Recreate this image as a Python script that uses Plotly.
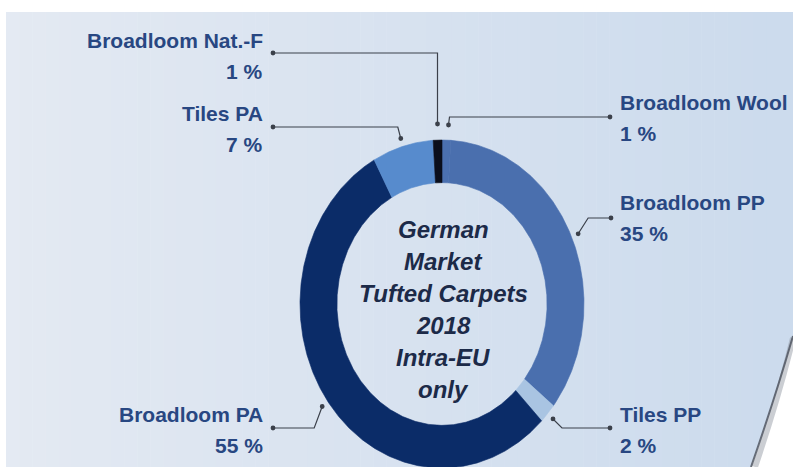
import numpy as np
import plotly.graph_objects as go

# ---- data -------------------------------------------------------------
segments = ["Broadloom Wool", "Broadloom PP", "Tiles PP",
            "Broadloom PA", "Tiles PA", "Broadloom Nat.-F"]
shares = [1, 35, 2, 55, 7, 1]          # percent of market
seg_colors = ["#4b70b0", "#4a6fae", "#a9c4e2",
              "#0b2c68", "#578bcd", "#0a0e1c"]
center_lines = ["German", "Market", "Tufted Carpets", "2018", "Intra-EU", "only"]

# ---- layout constants (pixel space) ------------------------------------
W, H = 793, 467
CX, CY, RX, RY, HOLE = 442, 304, 142, 164, 0.74
LABEL_COLOR = "#284782"
CENTER_COLOR = "#1c2a48"
LEADER_COLOR = "#3b404a"
FONT = "Arial, Liberation Sans, sans-serif"

fig = go.Figure()

# donut drawn clockwise from 12 o'clock on an elliptical ring
total = float(sum(shares))
bounds = np.concatenate([[0.0], np.cumsum(shares) / total]) * 2 * np.pi
for name, a0, a1, col in zip(segments, bounds[:-1], bounds[1:], seg_colors):
    t = np.linspace(a0, a1, max(8, int((a1 - a0) * 120)))
    xo, yo = CX + RX * np.sin(t), CY - RY * np.cos(t)
    xi, yi = CX + RX * HOLE * np.sin(t[::-1]), CY - RY * HOLE * np.cos(t[::-1])
    fig.add_trace(go.Scatter(
        x=np.concatenate([xo, xi, xo[:1]]), y=np.concatenate([yo, yi, yo[:1]]),
        mode="lines", fill="toself", fillcolor=col,
        line=dict(color=col, width=0.6), hoverinfo="skip", name=name,
        showlegend=False))

shapes = []

# soft horizontal background gradient
left_rgb, right_rgb = np.array([228, 234, 243]), np.array([204, 219, 237])
n_strips = 60
xs = np.linspace(6, W, n_strips + 1)
for i in range(n_strips):
    f = i / (n_strips - 1)
    c = (left_rgb + (right_rgb - left_rgb) * f).astype(int)
    shapes.append(dict(type="rect", xref="x", yref="y", x0=xs[i], x1=xs[i + 1] + 0.5,
                       y0=12, y1=H, line=dict(width=0), layer="below",
                       fillcolor=f"rgb({c[0]},{c[1]},{c[2]})"))

# white curved sheet in the lower right corner
shapes.append(dict(type="path", xref="x", yref="y", layer="below",
                   path=f"M {W},336 Q 776,395 751,{H} L {W},{H} Z",
                   fillcolor="white", line=dict(width=0)))
shapes.append(dict(type="path", xref="x", yref="y", layer="below",
                   path=f"M {W},338 Q 779,396 755,{H}",
                   line=dict(color="rgba(140,146,158,0.45)", width=6)))
shapes.append(dict(type="path", xref="x", yref="y", layer="below",
                   path=f"M {W},336 Q 776,395 751,{H}",
                   line=dict(color="rgba(80,86,98,0.85)", width=2)))


def dot(x, y, r=2.4):
    shapes.append(dict(type="circle", xref="x", yref="y", x0=x - r, x1=x + r,
                       y0=y - r, y1=y + r, fillcolor=LEADER_COLOR,
                       line=dict(width=0)))


def leader(points):
    path = "M " + " L ".join(f"{px},{py}" for px, py in points)
    shapes.append(dict(type="path", xref="x", yref="y", path=path,
                       line=dict(color=LEADER_COLOR, width=1.2)))
    dot(*points[0])
    dot(*points[-1])


def anchor(i, r=1.05):
    mid = (bounds[i] + bounds[i + 1]) / 2
    return CX + RX * r * np.sin(mid), CY - RY * r * np.cos(mid)


annotations = []


def text(x, baseline, s, size, xanchor, color):
    annotations.append(dict(xref="x", yref="y", x=x, y=baseline - 0.35 * size,
                            text=s, showarrow=False, xanchor=xanchor,
                            yanchor="middle", borderpad=0, borderwidth=0,
                            font=dict(family=FONT, size=size, color=color)))


# label placement: (text x, name baseline, side, elbow points toward label)
label_pos = {
    "Broadloom Wool":   (620, 110, "left"),
    "Broadloom PP":     (620, 210, "left"),
    "Tiles PP":         (620, 422, "left"),
    "Broadloom PA":     (263, 422, "right"),
    "Tiles PA":         (263, 121, "right"),
    "Broadloom Nat.-F": (263, 48, "right"),
}
for i, (name, val) in enumerate(zip(segments, shares)):
    lx, base, side = label_pos[name]
    text(lx, base, f"<b>{name}</b>", 21, side, LABEL_COLOR)
    text(lx, base + 31, f"<b>{val} %</b>", 21, side, LABEL_COLOR)

# leader lines from each slice to its label
ax, ay = anchor(0, 1.02)
leader([(ax + 2, 125), (ax + 3, 117), (610, 117)])
ax, ay = anchor(1)
leader([(ax, ay), (ax + 10, 218), (611, 218)])
ax, ay = anchor(2)
leader([(ax, ay), (ax + 9, 428), (610, 428)])
ax, ay = anchor(3)
leader([(273, 428), (ax - 8, 428), (ax, ay)])
ax, ay = anchor(4)
leader([(273, 127), (ax - 3, 127), (ax, ay)])
ax, ay = anchor(5, 1.02)
leader([(273, 53), (ax, 53), (ax, 124)])

# centre title
for k, line in enumerate(center_lines):
    text(443, 238 + 32 * k, f"<b><i>{line}</i></b>", 24, "center", CENTER_COLOR)

fig.update_layout(
    width=W, height=H, autosize=False,
    margin=dict(l=0, r=0, t=0, b=0, pad=0),
    paper_bgcolor="white", plot_bgcolor="rgba(0,0,0,0)",
    xaxis=dict(range=[0, W], visible=False, fixedrange=True),
    yaxis=dict(range=[H, 0], visible=False, fixedrange=True),
    shapes=shapes, annotations=annotations, showlegend=False,
)

fig.write_html("out.html")
